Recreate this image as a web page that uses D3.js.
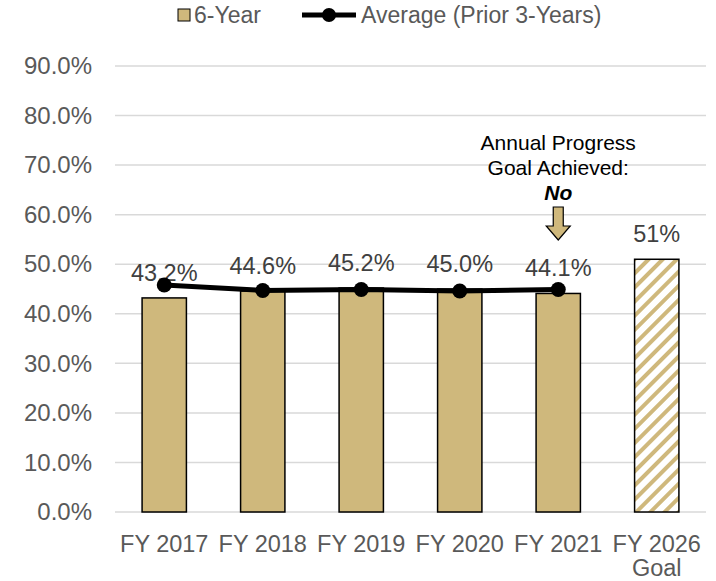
<!DOCTYPE html>
<html>
<head>
<meta charset="utf-8">
<script src="https://cdn.jsdelivr.net/npm/d3@7"></script>
<style>
  body { margin: 0; background: #fff; }
  text { font-family: 'Liberation Sans', Arial, sans-serif; }
</style>
</head>
<body>
<div id="chart"></div>
<script>
// data
const categories = ['FY 2017', 'FY 2018', 'FY 2019', 'FY 2020', 'FY 2021', 'FY 2026\nGoal'];
const sixYear = [43.2, 44.6, 45.2, 45.0, 44.1, 51];
const barLabels = ['43.2%', '44.6%', '45.2%', '45.0%', '44.1%', '51%'];
const priorAvg = [45.8, 44.7, 44.9, 44.6, 44.9];
const yTicks = [0, 10, 20, 30, 40, 50, 60, 70, 80, 90];

const width = 716, height = 581;
const gold = '#CFB87C';

const svg = d3.select('#chart')
    .append('svg')
    .attr('width', width)
    .attr('height', height);

// hatch for the goal bar
const defs = svg.append('defs');
const pat = defs.append('pattern')
    .attr('id', 'hatch')
    .attr('patternUnits', 'userSpaceOnUse')
    .attr('width', 10)
    .attr('height', 10)
    .attr('patternTransform', 'rotate(45)');
pat.append('rect').attr('width', 10).attr('height', 10).attr('fill', '#fff');
pat.append('rect').attr('width', 4).attr('height', 10).attr('fill', gold);

const x = d3.scaleBand()
    .domain(categories)
    .range([115, 706])
    .paddingInner(0.55)
    .paddingOuter(0.275);

const y = d3.scaleLinear()
    .domain([0, 90])
    .range([512, 66]);

// gridlines
svg.append('g')
    .selectAll('line')
    .data(yTicks)
    .join('line')
    .attr('x1', 115)
    .attr('x2', 706)
    .attr('y1', d => y(d))
    .attr('y2', d => y(d))
    .attr('stroke', '#d9d9d9')
    .attr('stroke-width', 1.5);

// y axis labels
const yAxis = svg.append('g')
    .attr('transform', 'translate(92,0)')
    .call(d3.axisLeft(y).tickValues(yTicks).tickSize(0).tickPadding(0).tickFormat(d => d.toFixed(1) + '%'));
yAxis.select('.domain').remove();
yAxis.selectAll('text')
    .attr('font-size', 24)
    .attr('fill', '#595959')
    .attr('font-family', "'Liberation Sans', Arial, sans-serif");

// bars
svg.append('g')
    .selectAll('rect')
    .data(sixYear)
    .join('rect')
    .attr('x', (d, i) => x(categories[i]))
    .attr('width', x.bandwidth())
    .attr('y', d => y(d))
    .attr('height', d => y(0) - y(d))
    .attr('fill', (d, i) => i === sixYear.length - 1 ? 'url(#hatch)' : gold)
    .attr('stroke', '#000')
    .attr('stroke-width', 1.5);

// bar labels
svg.append('g')
    .selectAll('text')
    .data(sixYear)
    .join('text')
    .attr('x', (d, i) => x(categories[i]) + x.bandwidth() / 2)
    .attr('y', d => y(d) - 17)
    .attr('text-anchor', 'middle')
    .attr('font-size', 23.5)
    .attr('fill', '#404040')
    .text((d, i) => barLabels[i]);

// average line
const cx = i => x(categories[i]) + x.bandwidth() / 2;
const line = d3.line()
    .x((d, i) => cx(i))
    .y(d => y(d));
svg.append('path')
    .datum(priorAvg)
    .attr('d', line)
    .attr('fill', 'none')
    .attr('stroke', '#000')
    .attr('stroke-width', 5);
svg.append('g')
    .selectAll('circle')
    .data(priorAvg)
    .join('circle')
    .attr('cx', (d, i) => cx(i))
    .attr('cy', d => y(d))
    .attr('r', 7.5)
    .attr('fill', '#000');

// x labels
const xl = svg.append('g')
    .selectAll('text')
    .data(categories)
    .join('text')
    .attr('x', d => x(d) + x.bandwidth() / 2)
    .attr('y', 552)
    .attr('text-anchor', 'middle')
    .attr('font-size', 23.5)
    .attr('fill', '#595959');
xl.selectAll('tspan')
    .data(d => d.split('\n'))
    .join('tspan')
    .attr('x', function () { return this.parentNode.getAttribute('x'); })
    .attr('dy', (d, i) => i === 0 ? 0 : 24)
    .text(d => d);

// annotation
const ax = cx(4);
const ann = svg.append('g').attr('font-size', 21).attr('fill', '#000').attr('text-anchor', 'middle');
ann.append('text').attr('x', ax).attr('y', 150).text('Annual Progress');
ann.append('text').attr('x', ax).attr('y', 175).text('Goal Achieved:');
ann.append('text').attr('x', ax).attr('y', 200)
    .attr('font-weight', 'bold').attr('font-style', 'italic').text('No');
const arrow = [[-5, 207], [5, 207], [5, 226], [12, 226], [0, 240], [-12, 226], [-5, 226]];
svg.append('path')
    .attr('d', 'M' + arrow.map(p => [ax + p[0], p[1]].join(',')).join('L') + 'Z')
    .attr('fill', gold)
    .attr('stroke', '#000')
    .attr('stroke-width', 1.2);

// legend
const lg = svg.append('g').attr('font-size', 23).attr('fill', '#595959');
lg.append('rect').attr('x', 178).attr('y', 9).attr('width', 12).attr('height', 12)
    .attr('fill', gold).attr('stroke', '#000').attr('stroke-width', 1);
lg.append('text').attr('x', 194).attr('y', 23).text('6-Year');
lg.append('line').attr('x1', 302).attr('x2', 356).attr('y1', 15).attr('y2', 15)
    .attr('stroke', '#000').attr('stroke-width', 5);
lg.append('circle').attr('cx', 329).attr('cy', 15).attr('r', 7).attr('fill', '#000');
lg.append('text').attr('x', 361).attr('y', 23).text('Average (Prior 3-Years)');
</script>
</body>
</html>
